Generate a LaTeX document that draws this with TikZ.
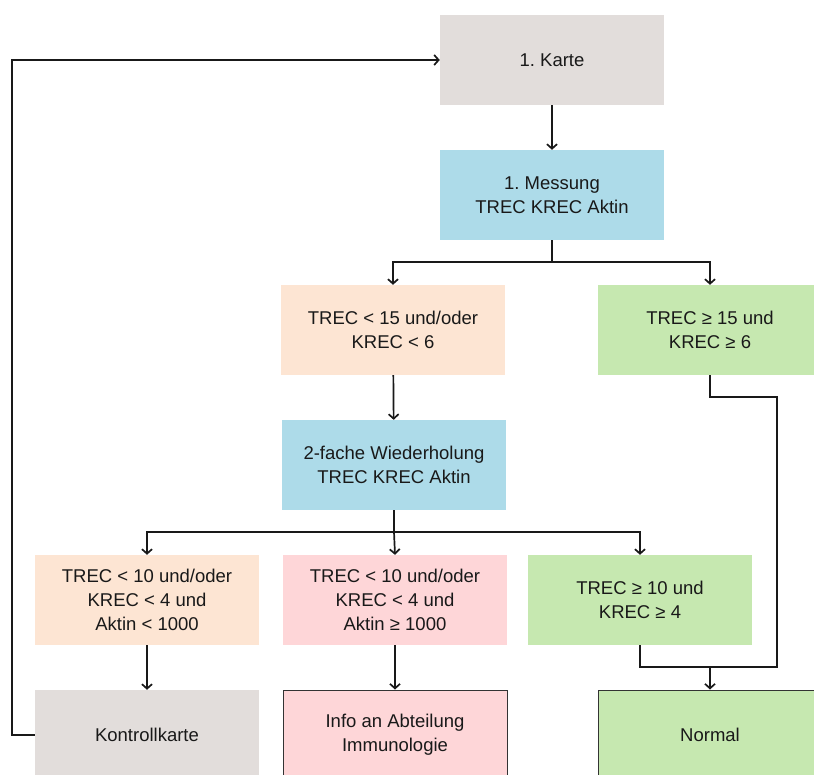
\documentclass[tikz,border=0pt]{standalone}
\usepackage{fontspec}
\setmainfont{Liberation Sans}
\usetikzlibrary{positioning,arrows,arrows.meta,calc}
\frenchspacing
\definecolor{grau}{HTML}{E2DDDB}
\definecolor{blau}{HTML}{ADDBE9}
\definecolor{pfirsich}{HTML}{FDE5D3}
\definecolor{gruen}{HTML}{C6E8B0}
\definecolor{rosa}{HTML}{FED6D8}
\tikzset{
  kasten/.style={rectangle,minimum width=224pt,minimum height=90pt,inner sep=0pt,align=center,
    font=\fontsize{18.5}{24}\selectfont,text=black!90},
  rand/.style={draw=black!80,line width=1pt},
  pfeil/.style={-{Straight Barb[length=4.5pt,width=10pt]},line width=1.7pt,black!90},
  linie/.style={line width=1.7pt,black!90}
}
\begin{document}
\begin{tikzpicture}[x=1pt,y=-1pt]
\clip (0,0) rectangle (814,774);
\fill[white] (0,0) rectangle (814,774);
\node [kasten,fill=grau] (karte) at (552,60) {1. Karte};
\node [kasten,fill=blau] (m1) at (552,195) {1. Messung\\TREC KREC Aktin};
\node [kasten,fill=pfirsich] (a1) at (393,330) {TREC < 15 und/oder\\KREC < 6};
\node [kasten,fill=gruen] (b1) at (710,330) {TREC ≥ 15 und\\KREC ≥ 6};
\node [kasten,fill=blau] (m2) at (394,465) {2-fache Wiederholung\\TREC KREC Aktin};
\node [kasten,fill=pfirsich] (a2) at (147,600) {TREC < 10 und/oder\\KREC < 4 und\\Aktin < 1000};
\node [kasten,fill=rosa] (c2) at (395,600) {TREC < 10 und/oder\\KREC < 4 und\\Aktin ≥ 1000};
\node [kasten,fill=gruen] (b2) at (640,600) {TREC ≥ 10 und\\KREC ≥ 4};
\node [kasten,fill=grau] (kontrolle) at (147,735) {Kontrollkarte};
\node [kasten,fill=rosa,rand] (info) at (395,735) {Info an Abteilung\\Immunologie};
\node [kasten,fill=gruen,rand] (normal) at (710,735) {Normal};
\coordinate (v1) at (552,262);
\coordinate (v2) at (394,532);
\coordinate (v3) at (710,667);
\draw [pfeil] (karte) -- (m1);
\draw [linie] (m1.south) -- (v1);
\draw [pfeil] (v1) -| (a1.north);
\draw [pfeil] (v1) -| (b1.north);
\draw [pfeil] (a1) -- (m2);
\draw [linie] (m2.south) -- (v2);
\draw [pfeil] (v2) -| (a2.north);
\draw [pfeil] (v2) -- (c2.north);
\draw [pfeil] (v2) -| (b2.north);
\draw [pfeil] (a2) -- (kontrolle);
\draw [pfeil] (c2) -- (info);
\draw [linie] (b1.south) |- (777,397) |- (v3) -| (b2.south);
\draw [pfeil] (v3) -- (normal.north);
\draw [pfeil] (kontrolle.west) -- (12,735) |- (karte.west);
\end{tikzpicture}
\end{document}
